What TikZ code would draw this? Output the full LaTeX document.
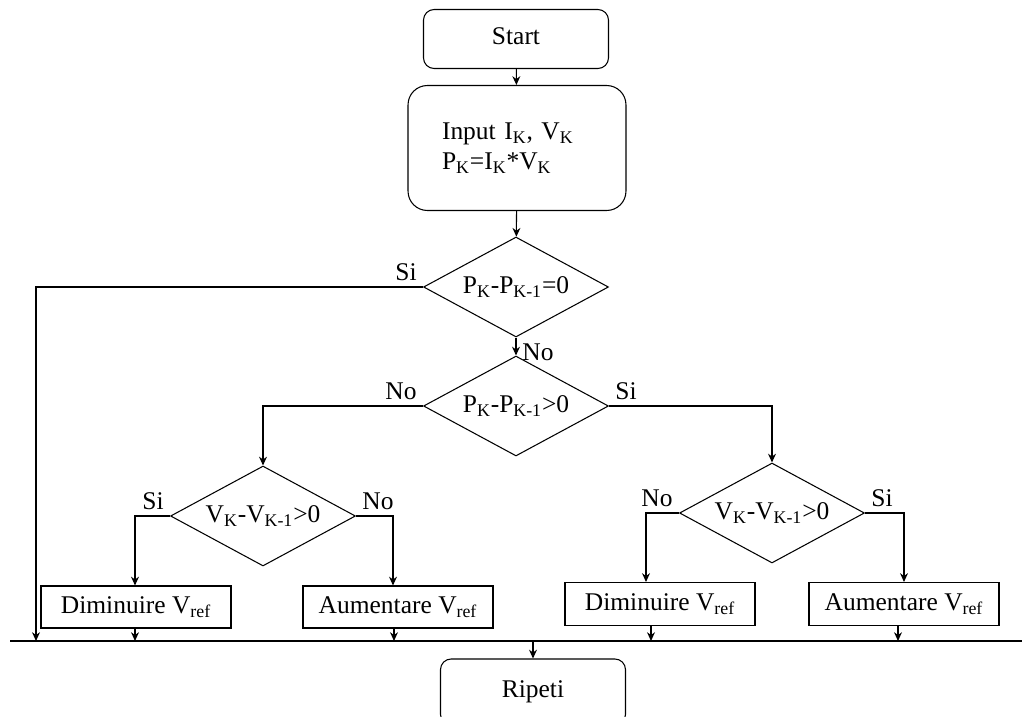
\documentclass[tikz,border=0pt]{standalone}
\usepackage{fontspec}
\setmainfont{Liberation Serif}
\usetikzlibrary{arrows.meta,shapes.geometric,positioning}
\newcommand{\sbs}[1]{\textsubscript{#1}}

\begin{document}
\begin{tikzpicture}[x=0.02cm,y=-0.02cm,>={Stealth[length=5pt,width=4.5pt]},line width=0.6pt,
    every node/.style={font=\fontsize{14.5}{17}\selectfont}]
       \tikzstyle{term}=[draw,rounded corners=6pt,minimum width=3.7cm,minimum height=1.18cm,inner sep=2pt]
       \tikzstyle{test}=[draw,diamond,aspect=1.85,inner sep=0pt,minimum width=3.7cm,minimum height=2cm]
       \tikzstyle{act}=[draw,minimum width=3.8cm,minimum height=0.84cm,inner sep=2pt]

       \useasboundingbox (0,0) rectangle (1022,717);

       \node[term] (start) at (516,39) {\raisebox{3pt}{Start}};
       \node[term,rounded corners=11pt,minimum width=4.36cm,minimum height=2.5cm,
             text width=3cm,align=left] (input) at (517,148)
             {Input I\sbs{K}, V\sbs{K}\\P\sbs{K}=I\sbs{K}*V\sbs{K}};

       \node[test] (d_1) at (516,287) {P\sbs{K}-P\sbs{K-1}=0};
       \node[test] (d_2) at (516,406) {P\sbs{K}-P\sbs{K-1}>0};
       \node[test] (d_3) at (263,516) {V\sbs{K}-V\sbs{K-1}>0};
       \node[test] (d_4) at (772,513) {V\sbs{K}-V\sbs{K-1}>0};

       \node[act] (dim_1) at (136,607) {Diminuire V\sbs{ref}};
       \node[act] (aum_1) at (398,607) {Aumentare V\sbs{ref}};
       \node[act,minimum height=0.86cm] (dim_2) at (660,604) {Diminuire V\sbs{ref}};
       \node[act,minimum height=0.86cm] (aum_2) at (904,604) {Aumentare V\sbs{ref}};
       \node[term,minimum height=1.32cm] (rip) at (533,692) {\raisebox{2pt}{Ripeti}};

       \coordinate (bus_l) at (10,641);
       \coordinate (bus_r) at (1022,641);
       \coordinate (back) at (36,641);

       \draw (bus_l) -- (bus_r);
       \draw[->] (start) -- (input);
       \draw[->] (input) -- (d_1);
       \draw[->] (d_1.west) node[above left] {Si} -| (back);
       \draw[->] (d_1.south) node[below right] {No} -- (d_2.north);
       \draw[->] (d_2.west) node[above left] {No} -| (d_3.north);
       \draw[->] (d_2.east) node[above right] {Si} -| (d_4.north);
       \draw[->] (d_3.west) node[above left] {Si} -| ([xshift=-0.02cm]dim_1.north);
       \draw[->] (d_3.east) node[above right] {No} -| ([xshift=-0.1cm]aum_1.north);
       \draw[->] (d_4.west) node[above left] {No} -| ([xshift=-0.28cm]dim_2.north);
       \draw[->] (d_4.east) node[above right] {Si} -| (aum_2.north);

       \foreach \n/\s in {dim_1/-1,aum_1/-4,dim_2/-9,aum_2/-6}
         \draw[->] ([xshift=\s*0.02cm]\n.south) -- ([xshift=\s*0.02cm]\n.south |- bus_l);
       \draw[->] (rip.north |- bus_l) -- (rip.north);
     \end{tikzpicture}
\end{document}
